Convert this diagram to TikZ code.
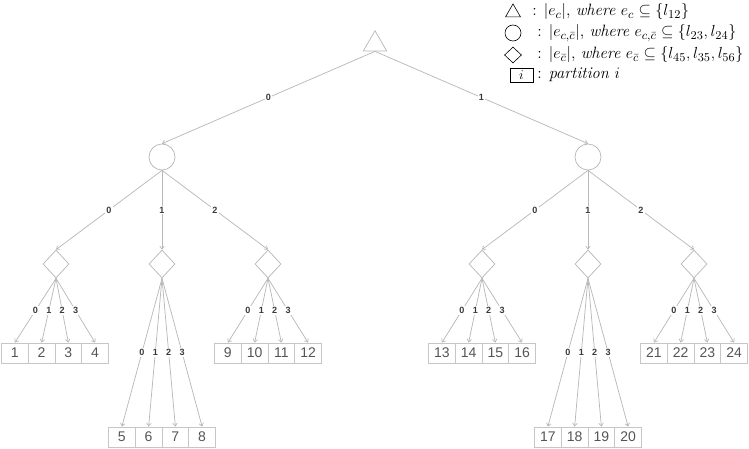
\documentclass[tikz,border=0pt]{standalone}
\usepackage{fontspec}
\usepackage{amssymb}
\newfontfamily\arial{Liberation Sans}
\usetikzlibrary{shapes.geometric,arrows.meta}

\definecolor{edgegray}{HTML}{B8B8B8}
\definecolor{boxgray}{HTML}{C6C6C6}
\definecolor{numgray}{HTML}{555555}
\definecolor{lblgray}{HTML}{3A3A3A}

\tikzset{
  edge/.style={draw=edgegray, line width=0.55pt, -{Straight Barb[length=2.2pt,width=3.4pt]}},
  elabel/.style={fill=white, inner sep=0.8pt, text=lblgray, font=\arial\bfseries\fontsize{6.8}{7}\selectfont},
  tri/.style={draw=edgegray, line width=0.55pt, regular polygon, regular polygon sides=3, minimum size=20.25pt, inner sep=0pt},
  circ/.style={draw=edgegray, line width=0.55pt, circle, minimum size=19.5pt, inner sep=0pt},
  dia/.style={draw=edgegray, line width=0.55pt, diamond, minimum width=19.5pt, minimum height=21pt, inner sep=0pt},
  part/.style={draw=boxgray, line width=0.55pt, minimum width=20pt, minimum height=15pt, inner sep=0pt, text=numgray, font=\arial\fontsize{10.5}{12}\selectfont},
  legsym/.style={draw=black, line width=0.45pt, inner sep=0pt},
  legtext/.style={anchor=west, inner sep=0pt, font=\fontsize{12.3}{14}\selectfont}
}

\begin{document}
\begin{tikzpicture}[x=0.75pt,y=-0.75pt]
\useasboundingbox (0,0) rectangle (749,449);

% root and the two circles below it
\node[tri] (r) at (375,44.25) {};
\foreach \c/\x in {0/162,1/588}{
  \node[circ] (c\c) at (\x,157) {};
  \draw[edge] (r.side 2) -- node[elabel] {\c} (c\c.north);
  \foreach \d in {0,1,2}{
    \node[dia] (d\c\d) at ({\x+106*(\d-1)},264) {};
    \draw[edge] (c\c.south) -- node[elabel] {\d} (d\c\d.north);
  }
}

% partitions, the middle ones hang lower
\foreach \x/\d [count=\g from 0] in {55/00,162/01,268/02,482/10,588/11,694/12}{
  \pgfmathsetmacro\y{mod(\g,3)==1 ? 437 : 353}
  \foreach \k in {0,...,3}{
    \pgfmathtruncatemacro\n{4*\g+\k+1}
    \node[part] (p\n) at ({\x+26.75*(\k-1.5)},\y) {\n};
    \draw[edge] (d\d.south) -- node[elabel] {\k} (p\n.north);
  }
}

% legend
\node[legsym, regular polygon, regular polygon sides=3, minimum size=13pt] (ltri) at (513,12.6) {};
\node[legsym, circle, minimum size=12pt] (lcirc) at (513,33) {};
\node[legsym, diamond, minimum width=12.75pt, minimum height=12pt] (ldia) at (513,55) {};
\node[legsym, minimum width=17pt, minimum height=10.5pt] (lbox) at (521.5,75) {$i$};
\node[legtext] (t1) at (532,12) {: $|e_c|$, \textit{where} $e_c \subseteq \{l_{12}\}$};
\node[legtext] (t2) at (537,33) {: $|e_{c,\bar{c}}|$, \textit{where} $e_{c,\bar{c}} \subseteq \{l_{23}, l_{24}\}$};
\node[legtext] (t3) at (537,55) {: $|e_{\bar{c}}|$, \textit{where} $e_{\bar{c}} \subseteq \{l_{45}, l_{35}, l_{56}\}$};
\node[legtext] (t4) at (537,75) {: \textit{partition} $i$};
\end{tikzpicture}
\end{document}
